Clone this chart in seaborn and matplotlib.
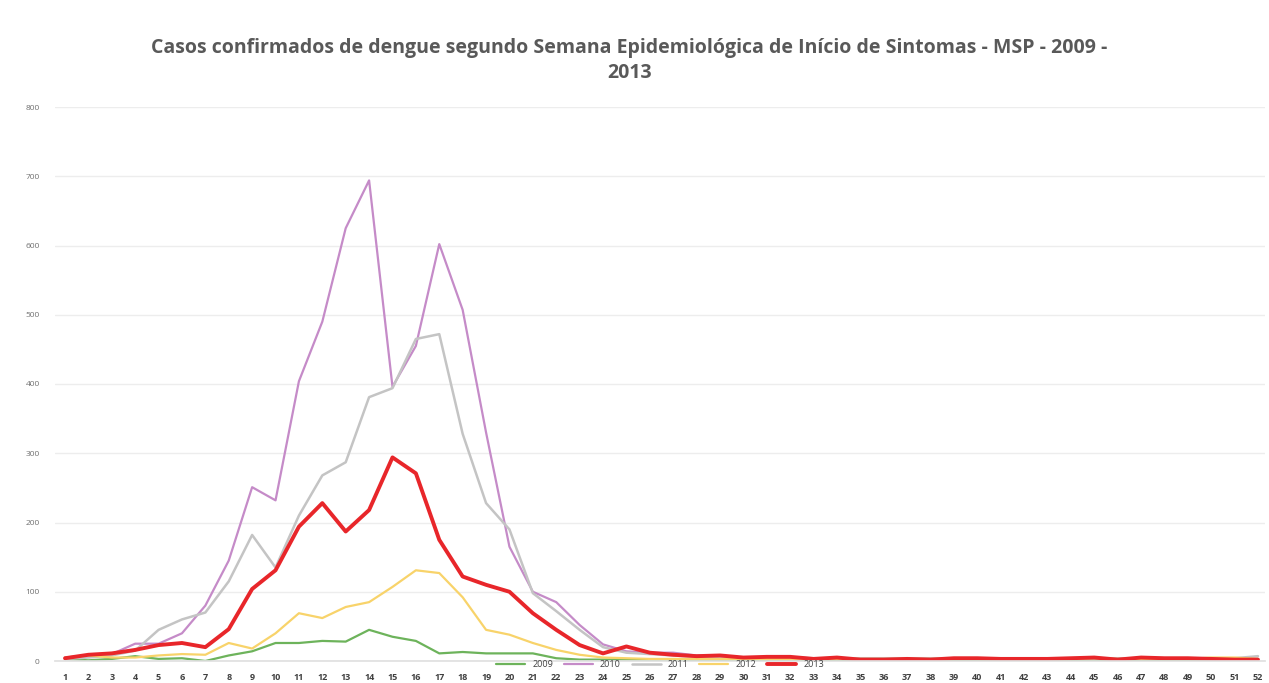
import matplotlib
matplotlib.use("Agg")
import matplotlib.pyplot as plt
import seaborn as sns
import pandas as pd

weeks = list(range(1, 53))

cases_2009 = [3, 1, 3, 7, 3, 4, 0, 8, 14, 26, 26, 29, 28, 45, 35, 29, 11, 13, 11, 11,
              11, 4, 2, 2, 2, 2, 2, 1, 1, 1, 1, 1, 1, 1, 1, 1, 1, 1, 1, 1,
              1, 1, 1, 1, 1, 1, 1, 1, 1, 1, 1, 1]
cases_2010 = [5, 8, 10, 25, 25, 40, 80, 145, 251, 232, 404, 490, 625, 694, 396, 455, 602, 507, 330, 165,
              100, 85, 52, 24, 14, 12, 12, 8, 8, 5, 5, 5, 4, 4, 3, 3, 3, 3, 4, 4,
              3, 3, 3, 3, 4, 3, 3, 3, 3, 3, 3, 3]
cases_2011 = [3, 5, 8, 15, 45, 60, 70, 115, 182, 135, 210, 268, 287, 381, 394, 465, 472, 328, 228, 190,
              98, 72, 45, 20, 12, 10, 8, 6, 6, 5, 5, 5, 4, 4, 4, 4, 4, 4, 4, 4,
              4, 4, 4, 4, 4, 4, 4, 4, 4, 4, 4, 7]
cases_2012 = [5, 8, 5, 5, 8, 10, 9, 26, 18, 40, 69, 62, 78, 85, 107, 131, 127, 92, 45, 38,
              26, 16, 9, 5, 4, 3, 3, 3, 3, 3, 3, 3, 3, 3, 3, 3, 3, 3, 3, 3,
              3, 3, 3, 3, 4, 3, 3, 3, 3, 5, 5, 3]
cases_2013 = [4, 9, 11, 16, 23, 26, 20, 46, 104, 131, 194, 228, 187, 218, 294, 271, 175, 122, 110, 100,
              69, 45, 23, 11, 21, 12, 9, 7, 8, 5, 6, 6, 3, 5, 2, 2, 3, 2, 4, 4,
              3, 3, 3, 4, 5, 2, 5, 4, 4, 3, 2, 2]

years = ["2009", "2010", "2011", "2012", "2013"]
series = [cases_2009, cases_2010, cases_2011, cases_2012, cases_2013]
colors = ["#6DB35B", "#C58BC8", "#C4C4C4", "#F8D36A", "#E8262A"]
widths = [1.6, 1.6, 1.8, 1.6, 2.8]

df = pd.DataFrame({
    "week": weeks * len(years),
    "year": [y for y in years for _ in weeks],
    "cases": [v for s in series for v in s],
})

sns.set_theme(style="white")
plt.rcParams["font.family"] = ["Open Sans", "DejaVu Sans"]

fig = plt.figure(figsize=(12.69, 6.83), dpi=100)
ax = fig.add_axes([55 / 1269, 22 / 683, 1210 / 1269, 554 / 683])

for yr, col, lw in zip(years, colors, widths):
    sns.lineplot(data=df[df["year"] == yr], x="week", y="cases", color=col,
                 linewidth=lw, label=yr, ax=ax)

ax.set_xlim(1 - 10 / 23.39, 52 + 7 / 23.39)
ax.set_ylim(0, 800)
ax.set_xticks(weeks)
ax.set_xticklabels([str(w) for w in weeks], fontsize=6.5, color="#404040", fontweight="bold")
ax.set_yticks(range(0, 801, 100))
ax.set_yticklabels([str(v) for v in range(0, 801, 100)], fontsize=6, color="#707070")
ax.tick_params(axis="y", pad=11, length=0)
ax.tick_params(axis="x", pad=9, length=0)
ax.yaxis.grid(True, color="#EDEDED", linewidth=1)
ax.set_xlabel("")
ax.set_ylabel("")
for side in ["top", "right", "left"]:
    ax.spines[side].set_visible(False)
ax.spines["bottom"].set_color("#E0E0E0")

ax.legend(loc="center", bbox_to_anchor=(0.5, -0.006), ncol=5, frameon=False,
          fontsize=6.5, handlelength=3.2, columnspacing=1.2, labelcolor="#404040",
          borderpad=0.1)

fig.suptitle("Casos confirmados de dengue segundo Semana Epidemiológica de Início de Sintomas - MSP - 2009 -\n2013",
             x=0.496, y=0.945, fontsize=14, fontweight="bold", color="#595959", linespacing=1.35)

fig.savefig("out.png", dpi=100)
